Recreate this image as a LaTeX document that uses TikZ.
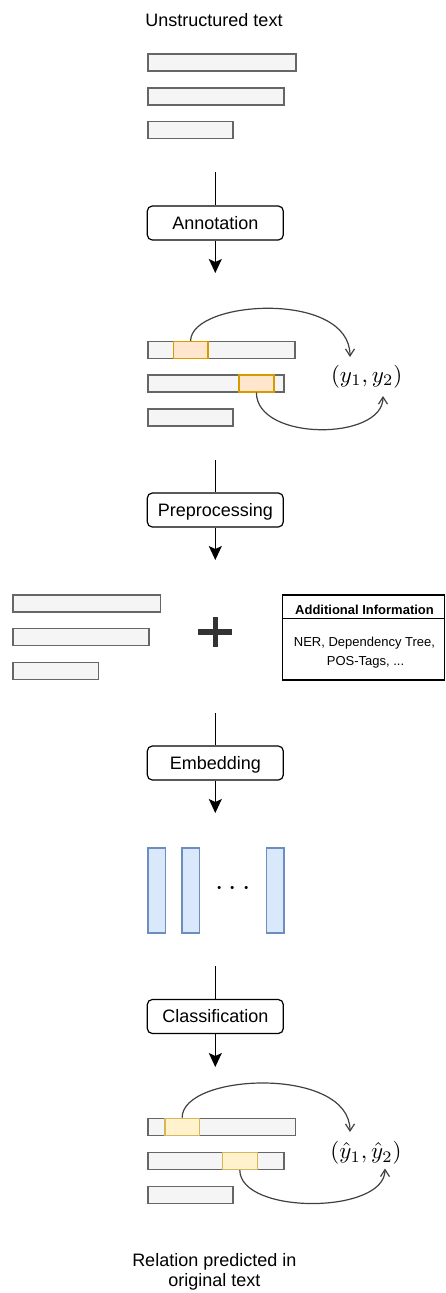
\documentclass[tikz,border=0pt]{standalone}
\usepackage{fontspec}
\setmainfont{Liberation Sans}
\usetikzlibrary{arrows.meta}

\definecolor{barfill}{HTML}{F5F5F5}
\definecolor{barline}{HTML}{666666}
\definecolor{spanAfill}{HTML}{FFE6CC}
\definecolor{spanAline}{HTML}{D79B00}
\definecolor{spanBfill}{HTML}{FFF2CC}
\definecolor{spanBline}{HTML}{D6B656}
\definecolor{vecfill}{HTML}{DAE8FC}
\definecolor{vecline}{HTML}{6C8EBF}
\definecolor{curveline}{HTML}{404040}
\definecolor{plusgray}{HTML}{333333}

\tikzset{
  bar/.style={draw=barline, fill=barfill, line width=1.2pt, inner sep=0pt,
    minimum height=17pt, anchor=north west},
  spanA/.style={draw=spanAline, fill=spanAfill, line width=1.2pt, inner sep=0pt,
    minimum height=17pt, anchor=north west},
  spanB/.style={draw=spanBline, fill=spanBfill, line width=1.2pt, inner sep=0pt,
    minimum height=17pt, anchor=north west},
  vec/.style={draw=vecline, fill=vecfill, line width=1.3pt, inner sep=0pt,
    minimum width=17.7pt, minimum height=85pt, anchor=north west},
  stepbox/.style={draw=black, rounded corners=5pt, line width=1.2pt,
    minimum width=136pt, minimum height=34pt, inner sep=0pt,
    font=\fontsize{18}{21}\selectfont, text height=12.9pt, text depth=0pt},
  caption/.style={inner sep=0pt, anchor=base, font=\fontsize{18}{21}\selectfont},
  small/.style={inner sep=0pt, anchor=base, font=\fontsize{13}{15}\selectfont},
  flowline/.style={draw=black, line width=1.2pt},
  flow/.style={flowline, -{Stealth[length=14pt,width=13pt,inset=3pt]}},
  rel/.style={draw=curveline, line width=1.2pt,
    -{Straight Barb[length=7pt,width=9pt,line width=1.2pt]}},
  mathlabel/.style={inner sep=0pt},
}

\begin{document}
\begin{tikzpicture}[x=1pt, y=-1pt]
\useasboundingbox (0,0) rectangle (445,1293);

% ---------- input text ----------
\node[caption] (title) at (214,26) {Unstructured text};
\node[bar, minimum width=148pt] (u1) at (147.3,53.3) {};
\node[bar, minimum width=136pt] (u2) at (147.3,87.3) {};
\node[bar, minimum width=85pt]  (u3) at (147.3,121) {};

% ---------- annotation step ----------
\coordinate (s1) at (215.3,172);
\node[stepbox] (ann) at (215.3,223) {Annotation};
\coordinate (e1) at (215.3,273);
\draw[flowline] (s1) -- (ann.north);
\draw[flow] (ann.south) -- (e1);

% annotated sentence
\node[bar, minimum width=147pt] (a1) at (147.3,341) {};
\node[bar, minimum width=136pt] (a2) at (147.3,374.3) {};
\node[bar, minimum width=85pt]  (a3) at (147.3,408.3) {};
\node[spanA, minimum width=34.6pt] (ha) at (172.7,341) {};
\node[spanA, minimum width=35pt]   (hb) at (238.3,374.3) {};
\node[mathlabel] (ylab) at (366.7,376.7) {\scalebox{2.3}{$(y_1,y_2)$}};
\coordinate (ya) at (350,357);
\coordinate (yb) at (383,396);
\draw[rel] (ha.north) .. controls +(0,-41) and +(0,-67) .. (ya);
\draw[rel] (hb.south) .. controls +(0,49) and +(0,45) .. (yb);

% ---------- preprocessing step ----------
\coordinate (s2) at (215.3,460);
\node[stepbox] (pre) at (215.3,510) {Preprocessing};
\coordinate (e2) at (215.3,560);
\draw[flowline] (s2) -- (pre.north);
\draw[flow] (pre.south) -- (e2);

% sentence plus extra features
\node[bar, minimum width=147.7pt] (p1) at (12.3,594.3) {};
\node[bar, minimum width=136pt]   (p2) at (12.3,627.7) {};
\node[bar, minimum width=85.4pt]  (p3) at (12.3,661.7) {};
\fill[plusgray] (198.3,629.3) rectangle (232.3,635);
\fill[plusgray] (212.7,617.3) rectangle (218,647.3);

\draw[line width=1.2pt] (282.5,595) rectangle (444.3,680);
\draw[line width=1.2pt] (282.5,618.3) -- (444.3,618.3);
\node[small, font=\fontsize{13}{15}\selectfont\bfseries] (infohead) at (364.5,614) {Additional Information};
\node[small] (info1) at (364.5,646) {NER, Dependency Tree,};
\node[small] (info2) at (365.5,665) {POS-Tags, ...};

% ---------- embedding step ----------
\coordinate (s3) at (215.3,713);
\node[stepbox] (emb) at (215.3,763) {Embedding};
\coordinate (e3) at (215.3,813);
\draw[flowline] (s3) -- (emb.north);
\draw[flow] (emb.south) -- (e3);

% word vectors
\node[vec] (v1) at (147.3,847.3) {};
\node[vec] (v2) at (181.2,847.3) {};
\node[vec] (v3) at (265.7,847.3) {};
\node[inner sep=0pt] (vdots) at (233,889) {\scalebox{3}{$\cdots$}};

% ---------- classification step ----------
\coordinate (s4) at (215.3,966);
\node[stepbox] (cls) at (215.3,1016.5) {Classification};
\coordinate (e4) at (215.3,1067);
\draw[flowline] (s4) -- (cls.north);
\draw[flow] (cls.south) -- (e4);

% predicted relation
\node[bar, minimum width=147.7pt] (c1) at (147.3,1117.7) {};
\node[bar, minimum width=136pt]   (c2) at (147.3,1151.7) {};
\node[bar, minimum width=85pt]    (c3) at (147.3,1185.7) {};
\node[spanB, minimum width=34.4pt] (hc) at (164.3,1117.7) {};
\node[spanB, minimum width=35pt]   (hd) at (221.7,1151.7) {};
\node[mathlabel] (yhat) at (366,1153) {\scalebox{2.3}{$(\hat{y}_1,\hat{y}_2)$}};
\coordinate (yc) at (350,1132);
\coordinate (yd) at (385,1168.5);
\draw[rel] (hc.north) .. controls +(0,-45) and +(0,-66) .. (yc);
\draw[rel] (hd.south) .. controls +(0,45) and +(0,46) .. (yd);

\node[caption] (out1) at (214.3,1266) {Relation predicted in};
\node[caption] (out2) at (214.3,1286) {original text};
\end{tikzpicture}
\end{document}
